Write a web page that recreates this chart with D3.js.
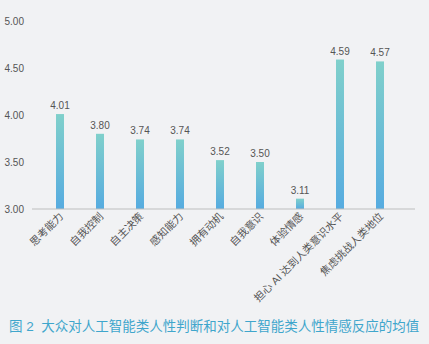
<!DOCTYPE html>
<html><head><meta charset="utf-8">
<script src="https://cdn.jsdelivr.net/npm/d3@7"></script>
<style>
html,body{margin:0;padding:0;background:#f1f2f4;}
svg{display:block;}
text{font-family:"Liberation Sans","Noto Sans CJK SC",sans-serif;}
</style></head>
<body>
<svg id="c" width="429" height="344"></svg>
<script>
const categories = ["思考能力","自我控制","自主决策","感知能力","拥有动机","自我意识","体验情感","担心 AI 达到人类意识水平","焦虑挑战人类地位"];
const values = [4.01,3.80,3.74,3.74,3.52,3.50,3.11,4.59,4.57];
const yTicks = [3.00,3.50,4.00,4.50,5.00];
const title = "图 2  大众对人工智能类人性判断和对人工智能类人性情感反应的均值";

const svg = d3.select("#c");
const x = d3.scaleBand().domain(categories).range([40,400]).paddingInner(0.8).paddingOuter(0.4);
const y = d3.scaleLinear().domain([3,5]).range([209,21]);

const defs = svg.append("defs");
const g = defs.append("linearGradient").attr("id","bg").attr("x1",0).attr("y1",0).attr("x2",0).attr("y2",1);
g.append("stop").attr("offset","0%").attr("stop-color","#80d0cb");
g.append("stop").attr("offset","100%").attr("stop-color","#56abe0");

// y axis labels
const ya = svg.append("g").attr("transform","translate(24,0)")
  .call(d3.axisLeft(y).tickValues(yTicks).tickFormat(d3.format(".2f")).tickSize(0).tickPadding(0));
ya.select(".domain").remove();
ya.selectAll("text").attr("font-size",10).attr("fill","#555").attr("font-family","Liberation Sans, sans-serif");

// bars
svg.append("g").selectAll("rect").data(values).join("rect")
  .attr("x",(d,i)=>x(categories[i]))
  .attr("y",d=>y(d))
  .attr("width",x.bandwidth())
  .attr("height",d=>y(3)-y(d))
  .attr("fill","url(#bg)");

// value labels
svg.append("g").selectAll("text").data(values).join("text")
  .attr("x",(d,i)=>x(categories[i])+x.bandwidth()/2)
  .attr("y",d=>y(d)-5)
  .attr("text-anchor","middle")
  .attr("font-size",10)
  .attr("fill","#555")
  .text(d=>d.toFixed(2));

// x axis
const xa = svg.append("g").attr("transform","translate(0,209)")
  .call(d3.axisBottom(x).tickSize(0).tickPadding(0));
xa.select(".domain").attr("d","M32,0H415").attr("stroke","#bdbdbd").attr("stroke-width",1.2);
xa.selectAll(".tick text")
  .attr("font-size",10.5).attr("fill","#555")
  .attr("text-anchor","end")
  .attr("dy",0).attr("y",0)
  .attr("transform","translate(4,8) rotate(-45)");

// title
svg.append("text").attr("x",9).attr("y",331).attr("font-size",13.5).attr("fill","#3fa6cc")
  .attr("font-family","Noto Sans CJK SC, sans-serif")
  .attr("xml:space","preserve")
  .text(title);
</script>
</body></html>
